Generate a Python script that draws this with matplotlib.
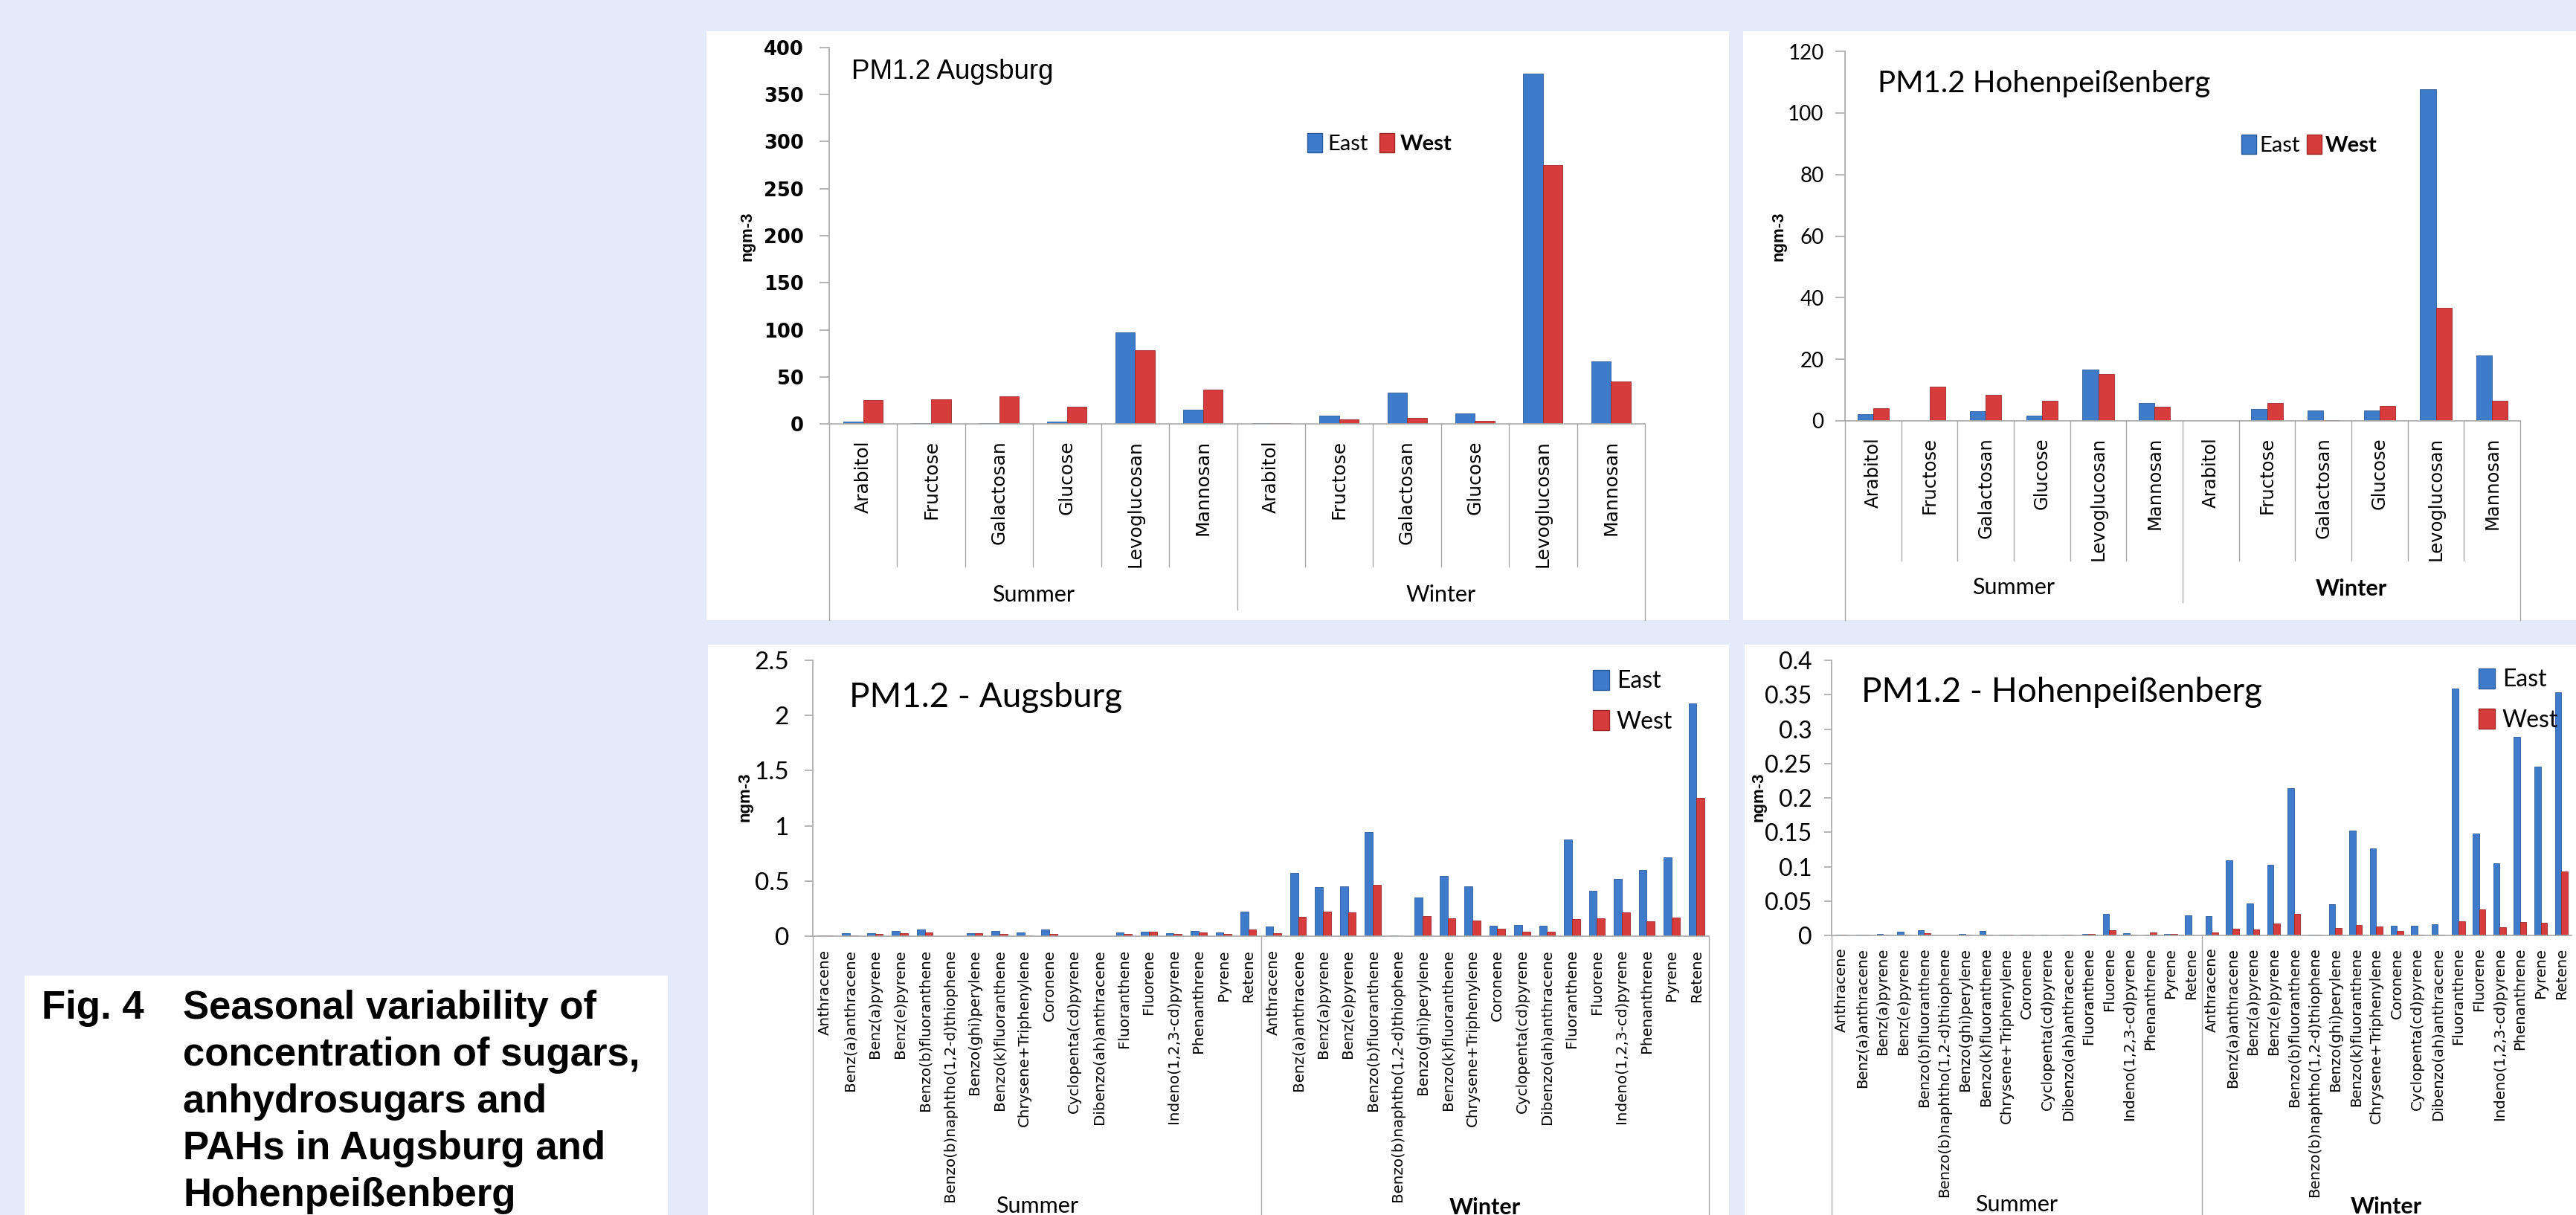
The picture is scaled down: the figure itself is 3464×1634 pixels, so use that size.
import numpy as np
import matplotlib.pyplot as plt
from matplotlib.patches import Rectangle, Patch

W, H = 3464, 1634

sugars = ['Arabitol', 'Fructose', 'Galactosan', 'Glucose', 'Levoglucosan', 'Mannosan']
pahs = ['Anthracene', 'Benz(a)anthracene', 'Benz(a)pyrene', 'Benz(e)pyrene',
        'Benzo(b)fluoranthene', 'Benzo(b)naphtho(1,2-d)thiophene', 'Benzo(ghi)perylene',
        'Benzo(k)fluoranthene', 'Chrysene+Triphenylene', 'Coronene', 'Cyclopenta(cd)pyrene',
        'Dibenzo(ah)anthracene', 'Fluoranthene', 'Fluorene', 'Indeno(1,2,3-cd)pyrene',
        'Phenanthrene', 'Pyrene', 'Retene']
seasons = ['Summer', 'Winter']

# sugars, summer then winter
aug_sugar_east = [2, 0.5, 1, 2, 97.5, 15, 0.5, 9, 33.5, 11, 372.5, 66.5]
aug_sugar_west = [25, 26, 29, 18, 78, 36, 0.5, 5, 6.5, 3.5, 275, 45]
hoh_sugar_east = [2.2, 0.1, 3.2, 1.7, 16.6, 5.9, 0.1, 3.9, 3.3, 3.3, 107.8, 21.3]
hoh_sugar_west = [4, 11, 8.5, 6.4, 15.3, 4.7, 0.1, 5.9, 0.3, 4.8, 36.6, 6.4]

# PAHs
aug_pah_east_summer = [0.005, 0.027, 0.027, 0.05, 0.06, 0.003, 0.03, 0.05, 0.037,
                       0.06, 0.003, 0.003, 0.033, 0.043, 0.03, 0.05, 0.037, 0.223]
aug_pah_west_summer = [0.008, 0.01, 0.017, 0.027, 0.033, 0.002, 0.027, 0.017, 0.01,
                       0.017, 0.003, 0.002, 0.023, 0.043, 0.017, 0.037, 0.023, 0.06]
aug_pah_east_winter = [0.09, 0.573, 0.443, 0.45, 0.942, 0.008, 0.353, 0.549, 0.45,
                       0.093, 0.103, 0.097, 0.875, 0.413, 0.519, 0.603, 0.712, 2.107]
aug_pah_west_winter = [0.027, 0.176, 0.223, 0.216, 0.466, 0.003, 0.183, 0.163, 0.14,
                       0.07, 0.04, 0.04, 0.153, 0.163, 0.216, 0.133, 0.17, 1.255]
hoh_pah_east_summer = [0.001, 0.0016, 0.0027, 0.0053, 0.0075, 0.0005, 0.0027, 0.007, 0.001,
                       0.0016, 0.0008, 0.0008, 0.002, 0.0315, 0.0032, 0.0008, 0.0027, 0.0294]
hoh_pah_west_summer = [0.0016, 0.0008, 0.001, 0.0016, 0.0032, 0.0005, 0.0008, 0.001, 0.0008,
                       0.0016, 0.0005, 0.0008, 0.002, 0.0075, 0.001, 0.0048, 0.0027, 0.0005]
hoh_pah_east_winter = [0.0283, 0.109, 0.047, 0.1025, 0.214, 0.0016, 0.045, 0.152, 0.1266,
                       0.0144, 0.0139, 0.016, 0.359, 0.148, 0.105, 0.289, 0.2457, 0.354]
hoh_pah_west_winter = [0.0043, 0.0101, 0.0085, 0.017, 0.0315, 0.0008, 0.0107, 0.015, 0.0134,
                       0.0064, 0.0016, 0.0008, 0.0203, 0.0374, 0.0123, 0.0198, 0.0187, 0.093]

aug_sugar_ticks = [0, 50, 100, 150, 200, 250, 300, 350, 400]
hoh_sugar_ticks = [0, 20, 40, 60, 80, 100, 120]
aug_pah_ticks = [0, 0.5, 1, 1.5, 2, 2.5]
aug_pah_ticklabels = ['0', '0.5', '1', '1.5', '2', '2.5']
hoh_pah_ticks = [0, 0.05, 0.1, 0.15, 0.2, 0.25, 0.3, 0.35, 0.4]
hoh_pah_ticklabels = ['0', '0.05', '0.1', '0.15', '0.2', '0.25', '0.3', '0.35', '0.4']

caption_lines = ['Seasonal variability of', 'concentration of sugars,',
                 'anhydrosugars and', 'PAHs in Augsburg and', 'Hohenpeißenberg']

BG = '#E4EAFA'
BLUE, BLUE_E = '#3F7BCB', '#2B5A99'
RED, RED_E = '#D63C3C', '#9E2727'
GREY = '#A8A8A8'

fig = plt.figure(figsize=(W / 100, H / 100), dpi=100)
fig.patch.set_facecolor(BG)


def white_box(x0, y0, x1, y1):
    fig.add_artist(Rectangle((x0 / W, 1 - y1 / H), (x1 - x0) / W, (y1 - y0) / H,
                             transform=fig.transFigure, facecolor='white',
                             edgecolor='none', zorder=-1))


def ftext(x, y, s, **kw):
    return fig.text(x / W, 1 - y / H, s, **kw)


def panel(box, cats, east, west, ymax, ticks, ticklabels, barw, lab_size, lab_pad,
          tick_font, tick_size, tick_pad, tick_len):
    x0, y0, x1, y1 = box
    ax = fig.add_axes([x0 / W, 1 - y1 / H, (x1 - x0) / W, (y1 - y0) / H])
    ax.set_facecolor('white')
    x = np.arange(len(cats))
    ax.bar(x - barw / 2, east, barw, color=BLUE, edgecolor=BLUE_E, linewidth=0.6)
    ax.bar(x + barw / 2, west, barw, color=RED, edgecolor=RED_E, linewidth=0.6)
    ax.set_xlim(-0.5, len(cats) - 0.5)
    ax.set_ylim(0, ymax)
    ax.set_yticks(ticks)
    ax.set_yticklabels(ticklabels, fontfamily=tick_font, fontsize=tick_size,
                       fontweight='bold' if tick_font == 'DejaVu Sans' else 'normal')
    ax.set_xticks(x)
    ax.set_xticklabels(cats, rotation=90, fontfamily='DejaVu Sans', fontsize=lab_size)
    ax.tick_params(axis='x', length=0, pad=lab_pad)
    ax.tick_params(axis='y', length=tick_len, width=1.2, color=GREY, pad=tick_pad)
    for s in ['top', 'right']:
        ax.spines[s].set_visible(False)
    for s in ['left', 'bottom']:
        ax.spines[s].set_color(GREY)
        ax.spines[s].set_linewidth(1.2)
    return ax


def frac(box, py):
    return (box[3] - py) / (box[3] - box[1])


def vline(ax, box, xd, py):
    ax.plot([xd, xd], [0, frac(box, py)], transform=ax.get_xaxis_transform(),
            color=GREY, lw=1.0, clip_on=False)


# white panels
white_box(950, 42, 2325, 834)
white_box(2344, 42, 3464, 834)
white_box(952, 867, 2325, 1634)
white_box(2346, 867, 3464, 1634)
white_box(33, 1312, 898, 1634)

# ---- top left: sugars Augsburg
b = (1115, 64, 2212, 570)
ax = panel(b, sugars + sugars, aug_sugar_east, aug_sugar_west, 400, aug_sugar_ticks,
           [str(t) for t in aug_sugar_ticks], 0.29, 18, 16, 'DejaVu Sans', 18.5, 15, 9.5)
for k in range(1, 12):
    vline(ax, b, k - 0.5, 820 if k == 6 else 762)
vline(ax, b, -0.5, 834)
vline(ax, b, 11.5, 834)
ax.text(2.5, frac(b, 800), seasons[0], transform=ax.get_xaxis_transform(), ha='center',
        va='center', fontfamily='Lato', fontsize=22)
ax.text(8.5, frac(b, 800), seasons[1], transform=ax.get_xaxis_transform(), ha='center',
        va='center', fontfamily='Lato', fontsize=22)
ftext(1145, 106, 'PM1.2 Augsburg', fontfamily='Liberation Sans', fontsize=26.5, va='baseline')
ftext(1005, 318, 'ngm-3', fontfamily='Liberation Sans', fontweight='bold', fontsize=16,
      rotation=90, ha='center', va='center')
leg = ax.legend(handles=[Patch(fc=BLUE, ec=BLUE_E), Patch(fc=RED, ec=RED_E)],
                labels=['East', 'West'], loc='center left',
                bbox_to_anchor=(1758 / W, 1 - 193 / H), bbox_transform=fig.transFigure,
                ncol=2, frameon=False, borderpad=0, borderaxespad=0, handlelength=0.7,
                handleheight=1.0, handletextpad=0.25, columnspacing=0.5,
                prop={'family': 'Lato', 'size': 21})
leg.get_texts()[1].set_fontweight('bold')

# ---- top right: sugars Hohenpeissenberg
b = (2481, 69, 3389, 566)
ax = panel(b, sugars + sugars, hoh_sugar_east, hoh_sugar_west, 120, hoh_sugar_ticks,
           [str(t) for t in hoh_sugar_ticks], 0.28, 17.5, 16, 'Lato', 20, 11, 9.5)
for k in range(1, 12):
    vline(ax, b, k - 0.5, 810 if k == 6 else 754)
vline(ax, b, -0.5, 834)
vline(ax, b, 11.5, 834)
ax.text(2.5, frac(b, 790), seasons[0], transform=ax.get_xaxis_transform(), ha='center',
        va='center', fontfamily='Lato', fontsize=22)
ax.text(8.5, frac(b, 792), seasons[1], transform=ax.get_xaxis_transform(), ha='center',
        va='center', fontfamily='Lato', fontsize=22, fontweight='bold')
ftext(2525, 124, 'PM1.2 Hohenpeißenberg', fontfamily='Lato', fontsize=29, va='baseline')
ftext(2392, 318, 'ngm-3', fontfamily='Liberation Sans', fontweight='bold', fontsize=16,
      rotation=90, ha='center', va='center')
leg = ax.legend(handles=[Patch(fc=BLUE, ec=BLUE_E), Patch(fc=RED, ec=RED_E)],
                labels=['East', 'West'], loc='center left',
                bbox_to_anchor=(3014 / W, 1 - 195 / H), bbox_transform=fig.transFigure,
                ncol=2, frameon=False, borderpad=0, borderaxespad=0, handlelength=0.7,
                handleheight=1.0, handletextpad=0.15, columnspacing=0.3,
                prop={'family': 'Lato', 'size': 21})
leg.get_texts()[1].set_fontweight('bold')

# ---- bottom left: PAHs Augsburg
b = (1093, 888, 2298, 1259)
ax = panel(b, pahs + pahs, aug_pah_east_summer + aug_pah_east_winter,
           aug_pah_west_summer + aug_pah_west_winter, 2.5, aug_pah_ticks, aug_pah_ticklabels,
           0.32, 14.3, 13, 'Lato', 24, 15, 8)
vline(ax, b, 17.5, 1640)
vline(ax, b, -0.5, 1640)
vline(ax, b, 35.5, 1640)
ax.text(8.5, frac(b, 1608), seasons[0], transform=ax.get_xaxis_transform(), ha='center',
        va='top', fontfamily='Lato', fontsize=22)
ax.text(26.5, frac(b, 1610), seasons[1], transform=ax.get_xaxis_transform(), ha='center',
        va='top', fontfamily='Lato', fontsize=22, fontweight='bold')
ftext(1142, 951, 'PM1.2 - Augsburg', fontfamily='Lato', fontsize=33, va='baseline')
ftext(1002, 1072, 'ngm-3', fontfamily='Liberation Sans', fontweight='bold', fontsize=16,
      rotation=90, ha='center', va='center')
leg = ax.legend(handles=[Patch(fc=BLUE, ec=BLUE_E), Patch(fc=RED, ec=RED_E)],
                labels=['East', 'West'], loc='upper left',
                bbox_to_anchor=(2142 / W, 1 - 901 / H), bbox_transform=fig.transFigure,
                frameon=False, borderpad=0, borderaxespad=0, handlelength=0.7,
                handleheight=0.9, handletextpad=0.3, labelspacing=0.75,
                prop={'family': 'Lato', 'size': 23})

# ---- bottom right: PAHs Hohenpeissenberg
b = (2463, 888, 3458, 1258)
ax = panel(b, pahs + pahs, hoh_pah_east_summer + hoh_pah_east_winter,
           hoh_pah_west_summer + hoh_pah_west_winter, 0.4, hoh_pah_ticks, hoh_pah_ticklabels,
           0.31, 14.2, 12, 'Lato', 23, 12, 7)
vline(ax, b, 17.5, 1640)
vline(ax, b, -0.5, 1640)
ax.text(8.5, frac(b, 1606), seasons[0], transform=ax.get_xaxis_transform(), ha='center',
        va='top', fontfamily='Lato', fontsize=22)
ax.text(26.5, frac(b, 1609), seasons[1], transform=ax.get_xaxis_transform(), ha='center',
        va='top', fontfamily='Lato', fontsize=22, fontweight='bold')
ftext(2503, 944, 'PM1.2 - Hohenpeißenberg', fontfamily='Lato', fontsize=33, va='baseline')
ftext(2365, 1072, 'ngm-3', fontfamily='Liberation Sans', fontweight='bold', fontsize=16,
      rotation=90, ha='center', va='center')
leg = ax.legend(handles=[Patch(fc=BLUE, ec=BLUE_E), Patch(fc=RED, ec=RED_E)],
                labels=['East', 'West'], loc='upper left',
                bbox_to_anchor=(3333 / W, 1 - 899 / H), bbox_transform=fig.transFigure,
                frameon=False, borderpad=0, borderaxespad=0, handlelength=0.7,
                handleheight=0.9, handletextpad=0.3, labelspacing=0.75,
                prop={'family': 'Lato', 'size': 23})

# caption
ftext(56, 1370, 'Fig. 4', fontfamily='Liberation Sans', fontweight='bold', fontsize=38,
      va='baseline')
for i, line in enumerate(caption_lines):
    ftext(246, 1370 + 63 * i, line, fontfamily='Liberation Sans', fontweight='bold',
          fontsize=38, va='baseline')

fig.savefig('out.png', dpi=100, facecolor=BG)
